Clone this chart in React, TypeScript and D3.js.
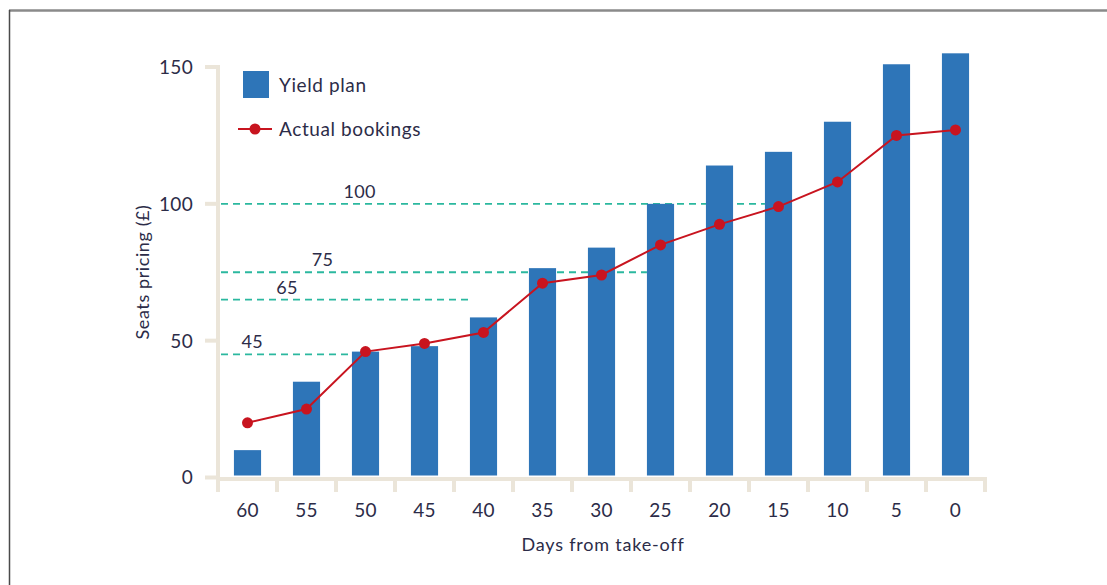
import React, { useEffect, useRef } from "react";
import * as d3 from "d3";

// Days before departure (x categories)
const days = ["60", "55", "50", "45", "40", "35", "30", "25", "20", "15", "10", "5", "0"];
// Planned seat price per stage (bars)
const yieldPlan = [10, 35, 46, 48, 58.5, 76.5, 84, 100, 114, 119, 130, 151, 155];
// Actual booking price per stage (line)
const actualBookings = [20, 25, 46, 49, 53, 71, 74, 85, 92.5, 99, 108, 125, 127];
// Price tiers drawn as dashed guides, with the category where each guide stops
const tierValues = [100, 75, 65, 45];
const tierEnds = ["15", "25", "40", "50"];
const yTicks = [0, 50, 100, 150];

const W = 1107;
const H = 585;
const FONT = "Lato, 'Open Sans', sans-serif";
const TEXT = "#2c2c48";
const AXIS = "#ebe5d9";
const BLUE = "#2e75b8";
const RED = "#c8141f";
const TEAL = "#2bb89f";

export default function App() {
  const ref = useRef<SVGSVGElement | null>(null);

  useEffect(() => {
    const svg = d3.select(ref.current);
    svg.selectAll("*").remove();

    const x = d3.scaleBand<string>().domain(days).range([218, 985]).paddingInner(0.54).paddingOuter(0.27);
    const y = d3.scaleLinear().domain([0, 150]).range([477.5, 67]);
    const bandStep = x.step();
    const cx = (d: string) => (x(d) as number) + x.bandwidth() / 2;

    // frame
    svg.append("line").attr("x1", 9).attr("x2", W).attr("y1", 10.5).attr("y2", 10.5)
      .attr("stroke", "#8a8a8a").attr("stroke-width", 2.5);
    svg.append("line").attr("x1", 9.5).attr("x2", 9.5).attr("y1", 10).attr("y2", H)
      .attr("stroke", "#4a4a4a").attr("stroke-width", 1.5);

    // axes
    const g = svg.append("g");
    g.append("line").attr("x1", 218).attr("x2", 218).attr("y1", 65).attr("y2", 492)
      .attr("stroke", AXIS).attr("stroke-width", 4);
    g.append("line").attr("x1", 216).attr("x2", 987).attr("y1", 479).attr("y2", 479)
      .attr("stroke", AXIS).attr("stroke-width", 4);
    yTicks.forEach((t) => {
      g.append("line").attr("x1", 205).attr("x2", 218).attr("y1", y(t)).attr("y2", y(t))
        .attr("stroke", AXIS).attr("stroke-width", 4);
      g.append("text").attr("x", 193).attr("y", y(t)).attr("dy", "0.36em")
        .attr("text-anchor", "end").attr("font-family", FONT).attr("font-size", 19)
        .attr("letter-spacing", 0.3).attr("fill", TEXT).text(String(t));
    });
    const tickXs = d3.range(days.length + 1).map((i) => 218 + i * bandStep);
    tickXs.forEach((tx) => {
      g.append("line").attr("x1", tx).attr("x2", tx).attr("y1", 479).attr("y2", 492)
        .attr("stroke", AXIS).attr("stroke-width", 4);
    });
    days.forEach((d) => {
      g.append("text").attr("x", 218 + (days.indexOf(d) + 0.5) * bandStep).attr("y", 510)
        .attr("dy", "0.36em").attr("text-anchor", "middle").attr("font-family", FONT)
        .attr("font-size", 19).attr("letter-spacing", 0.3).attr("fill", TEXT).text(d);
    });

    // axis titles
    svg.append("text").attr("transform", `translate(149,272) rotate(-90)`)
      .attr("text-anchor", "middle").attr("font-family", FONT).attr("font-size", 18)
      .attr("letter-spacing", 0.6).attr("fill", TEXT).text("Seats pricing (£)");
    svg.append("text").attr("x", 603).attr("y", 545).attr("dy", "0.36em")
      .attr("text-anchor", "middle").attr("font-family", FONT).attr("font-size", 18)
      .attr("letter-spacing", 0.8).attr("fill", TEXT).text("Days from take-off");

    // price tier guides; labels step rightwards with the tier
    const labelSteps = [2.4, 1.77, 1.17, 0.58];
    tierValues.forEach((v, i) => {
      svg.append("line").attr("x1", 221).attr("x2", x(tierEnds[i]) as number)
        .attr("y1", y(v)).attr("y2", y(v)).attr("stroke", TEAL).attr("stroke-width", 1.8)
        .attr("stroke-dasharray", "7,5");
      svg.append("text").attr("x", 218 + labelSteps[i] * bandStep).attr("y", y(v) - 6)
        .attr("text-anchor", "middle").attr("font-family", FONT).attr("font-size", 18)
        .attr("letter-spacing", 0.3).attr("fill", TEXT).text(String(v));
    });

    // bars
    svg.append("g").selectAll("rect").data(yieldPlan).join("rect")
      .attr("x", (_, i) => x(days[i]) as number)
      .attr("width", x.bandwidth())
      .attr("y", (v) => y(v))
      .attr("height", (v) => y(0) - y(v) - 2)
      .attr("fill", BLUE);

    // bookings line
    const line = d3.line<number>().x((_, i) => cx(days[i])).y((v) => y(v));
    svg.append("path").datum(actualBookings).attr("d", line).attr("fill", "none")
      .attr("stroke", RED).attr("stroke-width", 2);
    svg.append("g").selectAll("circle").data(actualBookings).join("circle")
      .attr("cx", (_, i) => cx(days[i])).attr("cy", (v) => y(v)).attr("r", 5.5)
      .attr("fill", RED);

    // legend
    const lg = svg.append("g");
    lg.append("rect").attr("x", 243).attr("y", 71).attr("width", 26).attr("height", 27).attr("fill", BLUE);
    lg.append("text").attr("x", 279).attr("y", 85).attr("dy", "0.36em").attr("font-family", FONT)
      .attr("font-size", 19).attr("letter-spacing", 0.6).attr("fill", TEXT).text("Yield plan");
    lg.append("line").attr("x1", 238).attr("x2", 272).attr("y1", 129).attr("y2", 129)
      .attr("stroke", RED).attr("stroke-width", 2);
    lg.append("circle").attr("cx", 255).attr("cy", 129).attr("r", 5.5).attr("fill", RED);
    lg.append("text").attr("x", 279).attr("y", 129).attr("dy", "0.36em").attr("font-family", FONT)
      .attr("font-size", 19).attr("letter-spacing", 0.6).attr("fill", TEXT).text("Actual bookings");
  }, []);

  return (
    <svg
      ref={ref}
      width={W}
      height={H}
      style={{ position: "absolute", left: 0, top: 0, background: "#fff" }}
    />
  );
}
